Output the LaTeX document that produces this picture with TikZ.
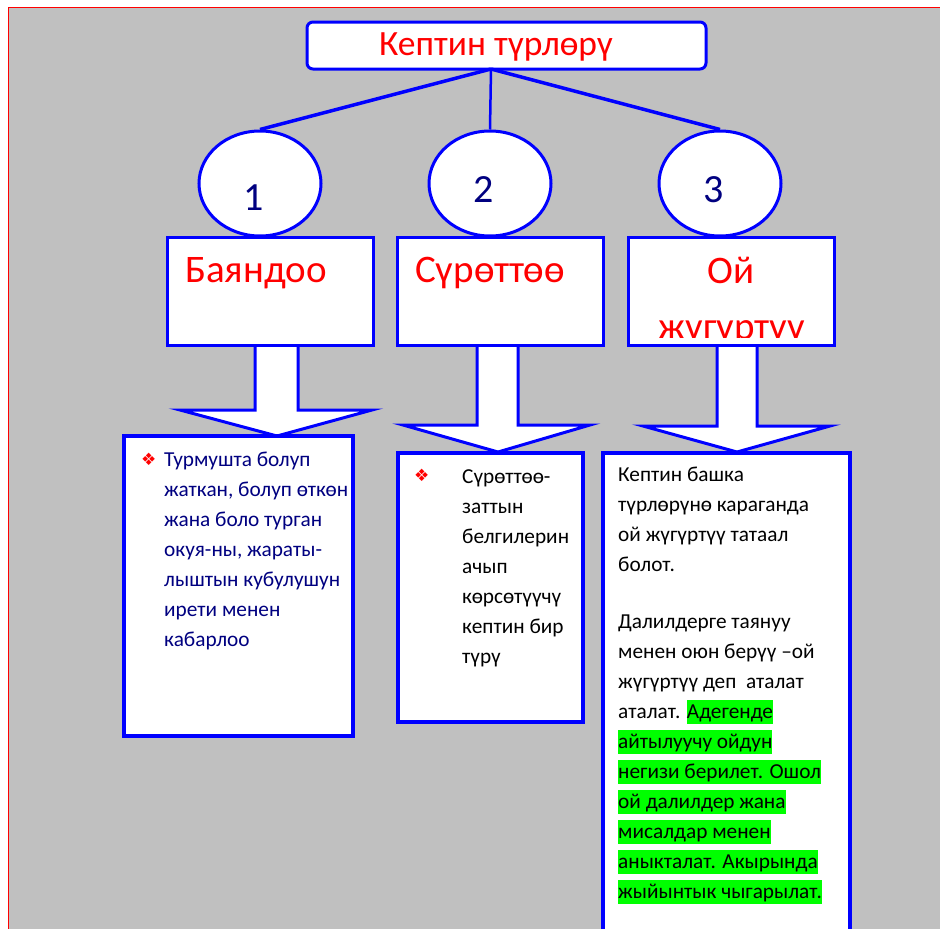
\documentclass[tikz,border=0pt]{standalone}
\usepackage{fontspec}
\setmainfont{Carlito}
\newfontfamily\dingfont{DejaVu Sans}
\usetikzlibrary{shapes.geometric}
\definecolor{bgray}{RGB}{192,192,192}
\definecolor{pblue}{RGB}{0,0,255}
\definecolor{tnavy}{RGB}{0,0,128}
\definecolor{hlgreen}{RGB}{0,255,0}
\newcommand{\hlg}[1]{{\setlength{\fboxsep}{0pt}\colorbox{hlgreen}{\rule[-6pt]{0pt}{24pt}#1}}}
\begin{document}
\begin{tikzpicture}[x=1pt,y=-1pt,
  topbox/.style={draw=pblue, line width=3pt, fill=white, rounded corners=6pt, minimum width=399pt, minimum height=47pt, inner sep=0pt},
  numcirc/.style={ellipse, draw=pblue, line width=3pt, fill=white, minimum width=122pt, minimum height=105pt, inner sep=0pt},
  catbox/.style={rectangle, draw=pblue, line width=3pt, fill=white, minimum width=206pt, minimum height=108pt, inner sep=0pt},
  blockarrow/.style={draw=pblue, line width=3pt, fill=white, line join=miter},
  textbox/.style={rectangle, draw=pblue, line width=3.5pt, fill=white, inner sep=0pt},
  link/.style={draw=pblue, line width=3.5pt},
  ttl/.style={text=red, inner sep=0pt, font=\fontsize{39}{46}\selectfont},
  numtxt/.style={text=tnavy, inner sep=0pt, font=\fontsize{40}{46}\selectfont},
  txt/.style={anchor=base west, inner sep=0pt, font=\fontsize{21.3}{25}\selectfont},
  bul/.style={anchor=base west, inner sep=0pt, text=red, font=\dingfont\fontsize{17}{20}\selectfont}]
\useasboundingbox (0,0) rectangle (940,929);
\clip (0,0) rectangle (940,929);
\fill[white] (0,0) rectangle (940,929);
\draw[red, fill=bgray, line width=1pt] (8.5,7.5) rectangle (970,970);

% top
\node[topbox] (top) at (506.5,45.5) {};
\node[text=red, inner sep=0pt, font=\fontsize{35.5}{42}\selectfont] (toptxt) at (496,47) {Кептин түрлөрү};
\coordinate (hub) at (491,69);

% circles
\node[numcirc] (c1) at (260,183.5) {};
\node[numcirc] (c2) at (490,183.5) {};
\node[numcirc] (c3) at (720,183.5) {};
\draw[link] (hub) -- (c1.north);
\draw[link, line width=2.5pt] (hub) -- (c2.north);
\draw[link] (hub) -- (c3.north);
\node[numtxt] (n1) at (254,198) {1};
\node[numtxt] (n2) at (484,190) {2};
\node[numtxt] (n3) at (714,190) {3};

% block arrows
\draw[blockarrow] (255,335) -- (255,410) -- (180,410) -- (277,436) -- (372,410) -- (298,410) -- (298,335) -- cycle;
\draw[blockarrow] (477,335) -- (477,425) -- (403,425) -- (498,452) -- (590,425) -- (518,425) -- (518,335) -- cycle;
\draw[blockarrow] (717,335) -- (717,426) -- (643,426) -- (737,452) -- (830,426) -- (757,426) -- (757,335) -- cycle;

% category boxes
\node[catbox] (b1) at (270,291) {};
\node[catbox] (b2) at (500.5,291) {};
\node[catbox] (b3) at (731.5,291) {};
\node[ttl] (t1) at (256,273) {Баяндоо};
\node[ttl] (t2) at (490,273) {Сүрөттөө};
\node[ttl] (t3a) at (731,270) {Ой};
\begin{scope}
\clip (630,240) rectangle (833,337);
\node[ttl, anchor=base] (t3b) at (732,339) {жүгүртүү};
\end{scope}

% text boxes
\node[textbox, minimum width=229pt, minimum height=300pt] (tb1) at (238.5,586) {};
\node[textbox, minimum width=185pt, minimum height=269pt] (tb2) at (490.5,587.5) {};
\node[textbox, minimum width=247pt, minimum height=510pt] (tb3) at (726.5,708) {};

% box 1 text
\node[bul] (bu1) at (141,465) {❖};
\begin{scope}[every node/.append style={text=tnavy}]
\node[txt] (l11) at (164,466) {Турмушта болуп};
\node[txt] (l12) at (164,496) {жаткан, болуп өткөн};
\node[txt] (l13) at (164,526) {жана боло турган};
\node[txt] (l14) at (164,556) {окуя-ны, жараты-};
\node[txt] (l15) at (164,586) {лыштын кубулушун};
\node[txt] (l16) at (164,616) {ирети менен};
\node[txt] (l17) at (164,646) {кабарлоо};
\end{scope}

% box 2 text
\node[bul] (bu2) at (414,481) {❖};
\node[txt] (l21) at (462,483) {Сүрөттөө-};
\node[txt] (l22) at (462,513) {заттын};
\node[txt] (l23) at (462,543) {белгилерин};
\node[txt] (l24) at (462,573) {ачып};
\node[txt] (l25) at (462,603) {көрсөтүүчү};
\node[txt] (l26) at (462,633) {кептин бир};
\node[txt] (l27) at (462,663) {түрү};

% box 3 text
\node[txt] (l31) at (618,481) {Кептин башка};
\node[txt] (l32) at (618,511) {түрлөрүнө караганда};
\node[txt] (l33) at (618,541) {ой жүгүртүү татаал};
\node[txt] (l34) at (618,571) {болот.};
\node[txt] (l35) at (618,628) {Далилдерге таянуу};
\node[txt] (l36) at (618,658) {менен оюн берүү –ой};
\node[txt] (l37) at (618,688) {жүгүртүү деп\ \ аталат};
\node[txt] (l38) at (618,718) {аталат. \hlg{Адегенде}};
\node[txt] (l39) at (618,748) {\hlg{айтылуучу ойдун}};
\node[txt] (l310) at (618,778) {\hlg{негизи берилет. Ошол}};
\node[txt] (l311) at (618,808) {\hlg{ой далилдер жана}};
\node[txt] (l312) at (618,838) {\hlg{мисалдар менен}};
\node[txt] (l313) at (618,868) {\hlg{аныкталат. Акырында}};
\node[txt] (l314) at (618,898) {\hlg{жыйынтык чыгарылат.}};
\end{tikzpicture}
\end{document}
